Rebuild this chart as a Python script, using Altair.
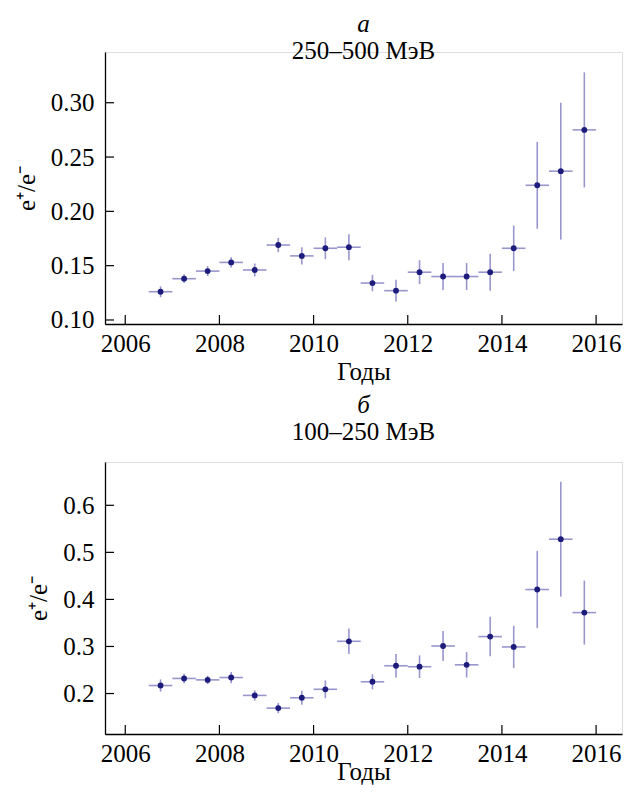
import altair as alt
import pandas as pd

# ---- data ----
years = [2006.75, 2007.25, 2007.75, 2008.25, 2008.75, 2009.25, 2009.75, 2010.25,
         2010.75, 2011.25, 2011.75, 2012.25, 2012.75, 2013.25, 2013.75, 2014.25,
         2014.75, 2015.25, 2015.75]
half_bin = [0.25] * 19

top_val = [0.126, 0.138, 0.145, 0.153, 0.146, 0.169, 0.159, 0.166, 0.167, 0.134,
           0.127, 0.144, 0.140, 0.140, 0.144, 0.166, 0.224, 0.237, 0.275]
top_err = [0.005, 0.004, 0.0046, 0.0047, 0.006, 0.0066, 0.008, 0.010, 0.012, 0.0075,
           0.010, 0.011, 0.0125, 0.0125, 0.017, 0.021, 0.040, 0.063, 0.053]

bot_val = [0.217, 0.232, 0.229, 0.234, 0.196, 0.169, 0.191, 0.209, 0.311, 0.225,
           0.259, 0.257, 0.301, 0.261, 0.321, 0.299, 0.421, 0.528, 0.372]
bot_err = [0.013, 0.010, 0.009, 0.012, 0.011, 0.011, 0.015, 0.019, 0.027, 0.016,
           0.025, 0.024, 0.032, 0.027, 0.042, 0.045, 0.082, 0.122, 0.068]

x_ticks = [2006, 2008, 2010, 2012, 2014, 2016]
top_y_ticks = [0.10, 0.15, 0.20, 0.25, 0.30]
bot_y_ticks = [0.2, 0.3, 0.4, 0.5, 0.6]

x_domain = [2005.57, 2016.55]
top_y_domain = [0.0963, 0.3467]
bot_y_domain = [0.114, 0.692]

FONT = "Liberation Serif"
W, H = 517, 272
POINT = "#1c1c7c"
BAR = "#9896cc"


def panel(vals, errs, yticks, ydomain, yfmt, letter, subtitle, toff, xtpad):
    df = pd.DataFrame({
        "year": years,
        "val": vals,
        "lo": [v - e for v, e in zip(vals, errs)],
        "hi": [v + e for v, e in zip(vals, errs)],
        "x0": [y - h for y, h in zip(years, half_bin)],
        "x1": [y + h for y, h in zip(years, half_bin)],
    })
    xs = alt.Scale(domain=x_domain, nice=False, zero=False)
    ys = alt.Scale(domain=ydomain, nice=False, zero=False)
    common = dict(labelFont=FONT, titleFont=FONT, labelFontSize=25,
                  titleFontSize=25, labelColor="black", titleColor="black",
                  titleFontWeight="normal", domainColor="black",
                  domainWidth=1.3, ticks=False, grid=False)
    xax = alt.Axis(values=x_ticks, format="d", title="Годы",
                   labelPadding=7, titlePadding=xtpad, **common)
    yax = alt.Axis(values=yticks, format=yfmt, title="e⁺/e⁻",
                   labelPadding=11, titlePadding=11, **common)
    base = alt.Chart(df)
    vbar = base.mark_rule(color=BAR, strokeWidth=1.6).encode(
        x=alt.X("year:Q", scale=xs, axis=xax),
        y=alt.Y("lo:Q", scale=ys, axis=yax),
        y2="hi:Q",
    )
    hbar = base.mark_rule(color=BAR, strokeWidth=1.6).encode(
        x=alt.X("x0:Q", scale=xs, axis=xax), x2="x1:Q",
        y=alt.Y("val:Q", scale=ys, axis=yax),
    )
    pts = base.mark_circle(color=POINT, size=34, opacity=1).encode(
        x=alt.X("year:Q", scale=xs, axis=xax),
        y=alt.Y("val:Q", scale=ys, axis=yax),
    )
    ytk = alt.Chart(pd.DataFrame({"t": yticks})).mark_rule(
        color="black", strokeWidth=1.2).encode(
        y=alt.Y("t:Q", scale=ys, axis=yax),
        x=alt.value(0), x2=alt.value(9),
    )
    xtk = alt.Chart(pd.DataFrame({"t": x_ticks})).mark_rule(
        color="black", strokeWidth=1.2).encode(
        x=alt.X("t:Q", scale=xs, axis=xax),
        y=alt.value(H), y2=alt.value(H - 9),
    )
    return alt.layer(vbar, hbar, pts, ytk, xtk).properties(
        width=W, height=H,
        title=alt.TitleParams(
            text=letter, subtitle=subtitle,
            font=FONT, fontSize=25, fontStyle="italic", fontWeight="normal",
            subtitleFont=FONT, subtitleFontSize=25, subtitleFontStyle="normal",
            subtitleColor="black", color="black",
            anchor="middle", offset=toff, subtitlePadding=2,
        ),
    )


top = panel(top_val, top_err, top_y_ticks, top_y_domain, ".2f",
            "а", "250–500 МэВ", -12, 3)
bot = panel(bot_val, bot_err, bot_y_ticks, bot_y_domain, ".1f",
            "б", "100–250 МэВ", 17, -7)

chart = alt.vconcat(top, bot, spacing=7).properties(
    padding={"left": 5, "top": 3, "right": 5, "bottom": 5}
).configure_view(stroke=None).configure(font=FONT)

chart.save("out.html", embed_options={"renderer": "svg", "actions": False})
